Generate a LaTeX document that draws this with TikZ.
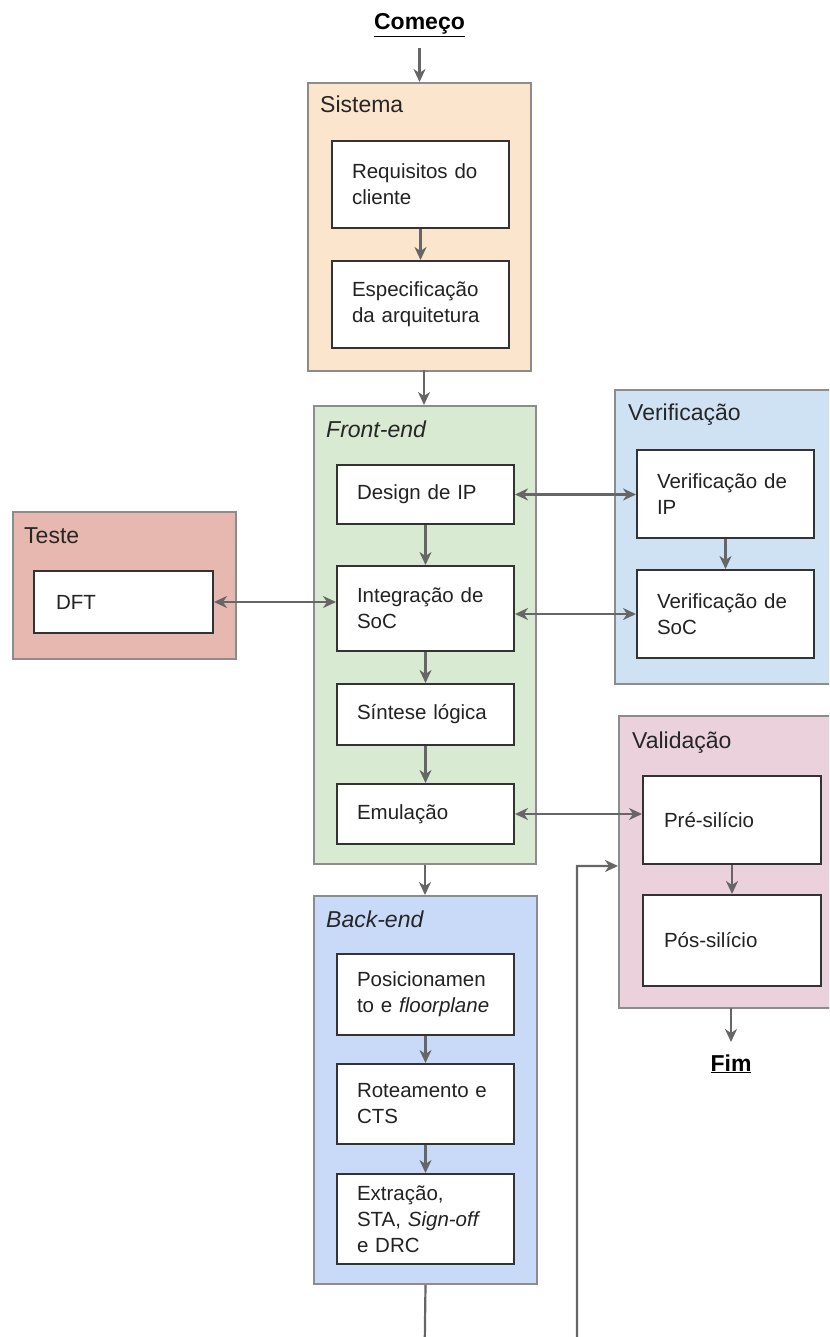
\documentclass[tikz,border=0pt]{standalone}
\usepackage{fontspec}
\setmainfont{Liberation Sans}
\usetikzlibrary{arrows.meta}
\definecolor{cSis}{HTML}{FCE5CD}
\definecolor{cFront}{HTML}{D9EAD3}
\definecolor{cVer}{HTML}{CFE2F3}
\definecolor{cTes}{HTML}{E6B8AF}
\definecolor{cVal}{HTML}{EAD1DC}
\definecolor{cBack}{HTML}{C9DAF8}
\definecolor{cBorder}{HTML}{8C8C8C}
\definecolor{cArrow}{HTML}{666666}
\definecolor{cText}{HTML}{222222}
\begin{document}
\begin{tikzpicture}[x=1pt,y=-1pt,
  group/.style={draw=cBorder, line width=2pt, anchor=north west, inner sep=0pt},
  stepbox/.style={draw=black!80, line width=2pt, fill=white, anchor=north west,
     inner xsep=20pt, inner ysep=0pt, align=left, text=cText,
     font=\fontsize{20.5}{26}\selectfont},
  grouptitle/.style={anchor=base west, inner sep=0pt, text=black!85,
     font=\fontsize{23}{27}\selectfont},
  endtext/.style={anchor=base, inner sep=0pt, font=\fontsize{23}{27}\selectfont\bfseries},
  tip/.style={Stealth[length=13pt,width=12pt,inset=4pt]},
  arr/.style={draw=cArrow, line width=2.2pt, -{Stealth[length=13pt,width=12pt,inset=4pt]}},
  darr/.style={draw=cArrow, line width=2.2pt, {Stealth[length=13pt,width=12pt,inset=4pt]}-{Stealth[length=13pt,width=12pt,inset=4pt]}},
  line/.style={draw=cArrow, line width=2.2pt}
]
\useasboundingbox (0,0) rectangle (829,1337);
\clip (0,0) rectangle (829,1337);

% start / end
\node[endtext] (comeco) at (419.5,30) {\underline{Começo}};
\node[endtext] (fim) at (731,1071) {\underline{Fim}};

% groups
\node[group, fill=cSis, minimum width=223pt, minimum height=288pt] (sistema) at (307,82) {};
\node[group, fill=cFront, minimum width=222pt, minimum height=458pt] (frontend) at (313,405) {};
\node[group, fill=cVer, minimum width=230pt, minimum height=294pt] (verif) at (614,389) {};
\node[group, fill=cTes, minimum width=223pt, minimum height=147pt] (teste) at (12,511) {};
\node[group, fill=cVal, minimum width=230pt, minimum height=292pt] (valid) at (618,715) {};
\node[group, fill=cBack, minimum width=223pt, minimum height=388pt] (backend) at (313,895) {};

% titles
\node[grouptitle] (tSis) at (320,113) {Sistema};
\node[grouptitle] (tFront) at (326,437) {\itshape Front-end};
\node[grouptitle] (tVer) at (628,420) {Verificação};
\node[grouptitle] (tTes) at (24,543) {Teste};
\node[grouptitle] (tVal) at (632,748) {Validação};
\node[grouptitle] (tBack) at (326,927) {\itshape Back-end};

% inner steps
\node[stepbox, minimum width=177pt, minimum height=87pt, text width=137pt] (req) at (331,140) {Requisitos do\\cliente};
\node[stepbox, minimum width=177pt, minimum height=87pt, text width=137pt] (esp) at (331,260) {Especificação\\da arquitetura};

\node[stepbox, minimum width=177pt, minimum height=59pt, text width=137pt] (design) at (336,464) {Design de IP};
\node[stepbox, minimum width=177pt, minimum height=85pt, text width=137pt] (integ) at (336,565) {Integração de\\SoC};
\node[stepbox, minimum width=177pt, minimum height=61pt, text width=137pt] (sint) at (336,683) {Síntese lógica};
\node[stepbox, minimum width=177pt, minimum height=60pt, text width=137pt] (emul) at (336,783) {Emulação};

\node[stepbox, minimum width=177pt, minimum height=88pt, text width=137pt] (verifip) at (636,449) {Verificação de\\IP};
\node[stepbox, minimum width=177pt, minimum height=88pt, text width=137pt] (verifsoc) at (636,569) {Verificação de\\SoC};

\node[stepbox, minimum width=179pt, minimum height=62pt, text width=135pt, inner xsep=22pt] (dft) at (33,570) {DFT};

\node[stepbox, minimum width=178pt, minimum height=88pt, text width=136pt, inner xsep=21pt] (pre) at (642,775) {Pré-silício};
\node[stepbox, minimum width=178pt, minimum height=91pt, text width=136pt, inner xsep=21pt] (pos) at (642,894) {Pós-silício};

\node[stepbox, minimum width=177pt, minimum height=81pt, text width=137pt] (posic) at (336,953) {Posicionamen\\to e \textit{floorplane}};
\node[stepbox, minimum width=177pt, minimum height=80pt, text width=137pt] (rot) at (336,1063) {Roteamento e\\CTS};
\node[stepbox, minimum width=177pt, minimum height=90pt, text width=137pt] (extr) at (336,1173) {Extração,\\STA, \textit{Sign-off}\\e DRC};

% connectors
\coordinate (cstart) at (419.5,48);
\draw[arr] (cstart) -- (cstart |- sistema.north);
\draw[arr] (req.south) -- (esp.north);
\coordinate (s2f) at (424,370);
\draw[arr] (s2f) -- (s2f |- frontend.north);
\draw[arr] (design.south) -- (integ.north);
\draw[arr] (integ.south) -- (sint.north);
\draw[arr] (sint.south) -- (emul.north);
\draw[arr] (frontend.south) -- (frontend.south |- backend.north);
\draw[arr] (posic.south) -- (rot.north);
\draw[arr] (rot.south) -- (extr.north);
\draw[arr] (verifip.south) -- (verifsoc.north);
\draw[arr] (pre.south) -- (pre.south |- pos.north);
\coordinate (vend) at (731,1008);
\draw[arr] (vend) -- (731,1042);

\draw[darr] (design.east) -- (design.east -| verifip.west);
\draw[darr] (verifsoc.west -| integ.east) -- (verifsoc.west);
\draw[darr] (dft.east) -- (dft.east -| integ.west);
\draw[darr] (emul.east) -- (emul.east -| pre.west);

% loop from back-end back into validation
\coordinate (lpA) at (424,1400);
\coordinate (lpB) at (577,1400);
\coordinate (vin) at (618,866);
\draw[arr] (backend.south) -- (lpA) -- (lpB) |- (vin);
\end{tikzpicture}
\end{document}
